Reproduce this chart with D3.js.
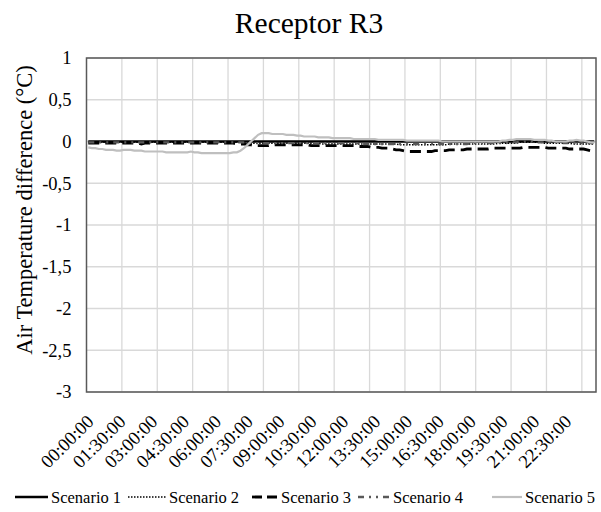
<!DOCTYPE html>
<html>
<head>
<meta charset="utf-8">
<script src="https://cdn.jsdelivr.net/npm/d3@7"></script>
<style>
  body { margin: 0; background: #fff; }
</style>
</head>
<body>
<div id="chart"></div>
<script>
// Receptor R3 - air temperature difference, 10 minute steps over one day

const TICK_LABELS = ["00:00:00", "01:30:00", "03:00:00", "04:30:00", "06:00:00", "07:30:00",
  "09:00:00", "10:30:00", "12:00:00", "13:30:00", "15:00:00", "16:30:00", "18:00:00",
  "19:30:00", "21:00:00", "22:30:00"];

const Y_TICKS = [1, 0.5, 0, -0.5, -1, -1.5, -2, -2.5, -3];

// one row = 2 hours (12 x 10 min)
const scenario1 = [
  0,0,0,0,0,0,0,0,0,0,0,0,
  0,0,0,0,0,0,0,0,0,0,0,0,
  0,0,0,0,0,0,0,0,0,0,0,0,
  0,0,0,0,0,0,0,0,0,0,0,0,
  0,0,0,0,0,0,0,0,0,0,0,0,
  0,0,0,0,0,0,0,0,0,0,0,0,
  0,0,0,0,0,0,0,0,0,0,0,0,
  0,0,0,0,0,0,0,0,0,0,0,0,
  0,0,0,0,0,0,0,0,0,0,0,0,
  0,0,0,0,0,0,0,0,0,0,0,0,
  0,0,0,0,0,0,0,0,0,0,0,0,
  0,0,0,0,0,0,0,0,0,0,0,0
];

const scenario2 = [
  -0.01,-0.01,-0.01,-0.01,-0.01,-0.01,-0.01,-0.01,-0.01,-0.01,-0.01,-0.01,
  -0.01,-0.01,-0.01,-0.01,-0.01,-0.01,-0.01,-0.01,-0.01,-0.01,-0.01,-0.01,
  -0.01,-0.01,-0.01,-0.01,-0.01,-0.01,-0.01,-0.01,-0.01,-0.01,-0.01,-0.01,
  -0.01,-0.01,-0.01,-0.01,-0.01,-0.01,-0.01,-0.01,-0.02,-0.02,-0.02,-0.02,
  -0.02,-0.02,-0.02,-0.02,-0.02,-0.02,-0.02,-0.02,-0.02,-0.02,-0.02,-0.02,
  -0.02,-0.02,-0.02,-0.02,-0.02,-0.02,-0.03,-0.03,-0.03,-0.03,-0.03,-0.03,
  -0.03,-0.03,-0.03,-0.03,-0.03,-0.03,-0.03,-0.03,-0.03,-0.03,-0.03,-0.03,
  -0.03,-0.03,-0.03,-0.03,-0.04,-0.04,-0.04,-0.04,-0.04,-0.04,-0.04,-0.04,
  -0.04,-0.04,-0.04,-0.04,-0.04,-0.04,-0.03,-0.03,-0.03,-0.03,-0.03,-0.03,
  -0.03,-0.03,-0.03,-0.03,-0.03,-0.03,-0.03,-0.03,-0.02,-0.02,-0.02,-0.02,
  -0.02,-0.02,-0.01,-0.01,-0.01,-0.01,-0.01,-0.01,-0.01,-0.02,-0.02,-0.02,
  -0.02,-0.02,-0.02,-0.02,-0.02,-0.03,-0.03,-0.03,-0.03,-0.03,-0.03,-0.03
];

const scenario3 = [
  -0.02,-0.02,-0.02,-0.02,-0.02,-0.02,-0.02,-0.02,-0.02,-0.02,-0.02,-0.02,
  -0.02,-0.02,-0.02,-0.03,-0.02,-0.02,-0.02,-0.02,-0.02,-0.02,-0.02,-0.02,
  -0.02,-0.02,-0.02,-0.02,-0.02,-0.02,-0.02,-0.02,-0.02,-0.02,-0.02,-0.02,
  -0.02,-0.02,-0.02,-0.02,-0.02,-0.02,-0.03,-0.03,-0.03,-0.04,-0.04,-0.05,
  -0.05,-0.05,-0.05,-0.05,-0.04,-0.04,-0.04,-0.04,-0.04,-0.04,-0.04,-0.04,
  -0.04,-0.04,-0.04,-0.05,-0.05,-0.05,-0.05,-0.05,-0.05,-0.05,-0.05,-0.05,
  -0.05,-0.05,-0.05,-0.05,-0.06,-0.06,-0.06,-0.06,-0.07,-0.07,-0.07,-0.08,
  -0.08,-0.08,-0.09,-0.10,-0.10,-0.11,-0.12,-0.12,-0.12,-0.12,-0.12,-0.12,
  -0.12,-0.12,-0.11,-0.11,-0.11,-0.11,-0.10,-0.10,-0.10,-0.10,-0.10,-0.09,
  -0.09,-0.09,-0.09,-0.09,-0.09,-0.09,-0.08,-0.08,-0.08,-0.08,-0.08,-0.08,
  -0.08,-0.08,-0.08,-0.07,-0.07,-0.07,-0.07,-0.07,-0.07,-0.07,-0.08,-0.08,
  -0.08,-0.08,-0.08,-0.08,-0.09,-0.09,-0.09,-0.09,-0.09,-0.10,-0.11,-0.12
];

const scenario4 = [
  -0.01,-0.01,-0.01,-0.01,-0.01,-0.01,-0.01,-0.01,-0.01,-0.01,-0.01,-0.01,
  -0.01,-0.01,-0.01,-0.01,-0.01,-0.01,-0.01,-0.01,-0.01,-0.01,-0.01,-0.01,
  -0.01,-0.01,-0.01,-0.01,-0.01,-0.01,-0.01,-0.01,-0.01,-0.01,-0.01,-0.01,
  -0.01,-0.01,-0.01,-0.01,-0.01,-0.01,-0.01,-0.01,-0.01,-0.01,-0.02,-0.02,
  -0.02,-0.02,-0.02,-0.02,-0.02,-0.02,-0.02,-0.02,-0.02,-0.02,-0.02,-0.02,
  -0.02,-0.02,-0.02,-0.02,-0.02,-0.02,-0.02,-0.02,-0.02,-0.02,-0.02,-0.02,
  -0.02,-0.02,-0.02,-0.02,-0.02,-0.03,-0.03,-0.03,-0.03,-0.03,-0.03,-0.03,
  -0.03,-0.03,-0.03,-0.03,-0.03,-0.03,-0.03,-0.03,-0.03,-0.03,-0.03,-0.03,
  -0.03,-0.03,-0.03,-0.03,-0.03,-0.03,-0.03,-0.03,-0.03,-0.03,-0.03,-0.03,
  -0.02,-0.02,-0.02,-0.02,-0.02,-0.02,-0.02,-0.02,-0.02,-0.02,-0.02,-0.01,
  -0.01,-0.01,0.00,0.00,0.00,0.00,0.00,-0.01,-0.01,-0.01,-0.01,-0.01,
  -0.01,-0.01,-0.02,-0.02,-0.02,-0.02,-0.02,-0.02,-0.02,-0.02,-0.02,-0.02
];

const scenario5 = [
  -0.07,-0.08,-0.08,-0.09,-0.09,-0.10,-0.10,-0.10,-0.11,-0.11,-0.10,-0.10,
  -0.10,-0.11,-0.11,-0.11,-0.12,-0.12,-0.12,-0.12,-0.12,-0.12,-0.13,-0.13,
  -0.13,-0.13,-0.13,-0.13,-0.13,-0.12,-0.13,-0.13,-0.14,-0.14,-0.14,-0.14,
  -0.14,-0.14,-0.14,-0.14,-0.14,-0.13,-0.13,-0.11,-0.08,-0.04,0.00,0.04,
  0.08,0.10,0.10,0.10,0.09,0.09,0.09,0.09,0.08,0.08,0.08,0.07,
  0.07,0.06,0.06,0.06,0.06,0.05,0.05,0.05,0.05,0.04,0.04,0.04,
  0.04,0.04,0.04,0.03,0.03,0.03,0.03,0.03,0.03,0.03,0.02,0.02,
  0.02,0.02,0.02,0.02,0.02,0.02,0.01,0.01,0.01,0.01,0.01,0.01,
  0.01,0.01,0.01,0.01,0.00,0.00,0.00,0.00,0.00,0.00,0.00,0.00,
  0.00,0.00,0.00,0.00,0.00,0.00,0.00,0.00,0.00,0.01,0.01,0.02,
  0.02,0.03,0.03,0.03,0.03,0.03,0.02,0.02,0.02,0.02,0.01,0.01,
  0.00,0.00,0.00,0.00,0.01,0.01,0.02,0.01,0.01,0.00,-0.01,-0.01
];

const SERIES = [
  { name: "Scenario 1", values: scenario1, color: "#000000", width: 2.5, dash: null },
  { name: "Scenario 2", values: scenario2, color: "#000000", width: 1.5, dash: "1.5,1.5" },
  { name: "Scenario 3", values: scenario3, color: "#000000", width: 2.8, dash: "11,6" },
  { name: "Scenario 4", values: scenario4, color: "#595959", width: 2.4, dash: "6,5,2,5,2,5" },
  { name: "Scenario 5", values: scenario5, color: "#bfbfbf", width: 2.2, dash: null }
];

const FONT = "'Liberation Serif', 'DejaVu Serif', serif";

// 10 minute categories built from the step count
const times = d3.range(scenario1.length).map(i => {
  const h = Math.floor(i / 6), mi = (i % 6) * 10;
  return `${String(h).padStart(2, "0")}:${String(mi).padStart(2, "0")}:00`;
});

const width = 601, height = 512;
const m = { top: 58, right: 5, bottom: 120, left: 86.5 };

const svg = d3.select("#chart").append("svg")
  .attr("width", width)
  .attr("height", height)
  .style("font-family", FONT);

const x = d3.scaleBand()
  .domain(times)
  .range([m.left, width - m.right])
  .padding(0);

const y = d3.scaleLinear()
  .domain([-3, 1])
  .range([height - m.bottom, m.top]);

const bw = x.bandwidth();

// gridlines
const grid = svg.append("g");
grid.selectAll("line.h")
  .data(Y_TICKS)
  .join("line")
  .attr("x1", m.left).attr("x2", width - m.right)
  .attr("y1", d => y(d)).attr("y2", d => y(d))
  .attr("stroke", "#d9d9d9").attr("stroke-width", 1.3);

grid.selectAll("line.v")
  .data(times.filter((t, i) => i > 0 && i % 10 === 0))
  .join("line")
  .attr("x1", d => x(d)).attr("x2", d => x(d))
  .attr("y1", m.top).attr("y2", height - m.bottom)
  .attr("stroke", "#d9d9d9").attr("stroke-width", 1.3);

// y axis labels
const fmt = d => String(d).replace(".", ",");
const yAxis = svg.append("g")
  .attr("transform", `translate(${m.left - 15},0)`)
  .call(d3.axisLeft(y).tickValues(Y_TICKS).tickFormat(fmt).tickSize(0).tickPadding(0));
yAxis.attr("font-family", null).attr("font-size", null);
yAxis.select(".domain").remove();
yAxis.selectAll("text")
  .style("font-family", FONT)
  .attr("font-size", 18.5)
  .attr("fill", "#000");

// x tick labels, every 9th category
const xLab = svg.append("g");
xLab.selectAll("text")
  .data(TICK_LABELS)
  .join("text")
  .attr("transform", d => `translate(${x(d) + bw / 2 + 2},${height - m.bottom + 26}) rotate(-45)`)
  .attr("text-anchor", "end")
  .attr("dy", "0.35em")
  .attr("font-size", 18.5)
  .style("font-family", FONT)
  .text(d => d);

// lines
const line = d3.line()
  .x((d, i) => x(times[i]) + bw / 2)
  .y(d => y(d));

const g = svg.append("g");
SERIES.forEach(s => {
  g.append("path")
    .datum(s.values)
    .attr("fill", "none")
    .attr("stroke", s.color)
    .attr("stroke-width", s.width)
    .attr("stroke-dasharray", s.dash)
    .attr("d", line);
});

// plot area border
svg.append("rect")
  .attr("x", m.left)
  .attr("y", m.top)
  .attr("width", width - m.left - m.right)
  .attr("height", height - m.top - m.bottom)
  .attr("fill", "none")
  .attr("stroke", "#595959")
  .attr("stroke-width", 1.5);

// title
svg.append("text")
  .attr("x", 309)
  .attr("y", 33)
  .attr("text-anchor", "middle")
  .attr("font-size", 29.5)
  .style("font-family", FONT)
  .text("Receptor R3");

// y axis title
svg.append("text")
  .attr("transform", "translate(32,210) rotate(-90)")
  .attr("text-anchor", "middle")
  .attr("font-size", 22.5)
  .style("font-family", FONT)
  .text("Air Temperature difference (°C)");

// legend
const LEGEND_X = [15, 128, 252, 358, 492];
const LEGEND_W = [33, 38, 26, 32, 30];
const legend = svg.append("g");
SERIES.forEach((s, i) => {
  const lx = LEGEND_X[i];
  const sw = LEGEND_W[i];
  legend.append("line")
    .attr("x1", lx).attr("x2", lx + sw)
    .attr("y1", 497).attr("y2", 497)
    .attr("stroke", s.color)
    .attr("stroke-width", s.width)
    .attr("stroke-dasharray", i === 2 ? "10,5" : s.dash);
  legend.append("text")
    .attr("x", lx + sw + 3)
    .attr("y", 503)
    .attr("font-size", 16.5)
    .style("font-family", FONT)
    .text(s.name);
});
</script>
</body>
</html>
